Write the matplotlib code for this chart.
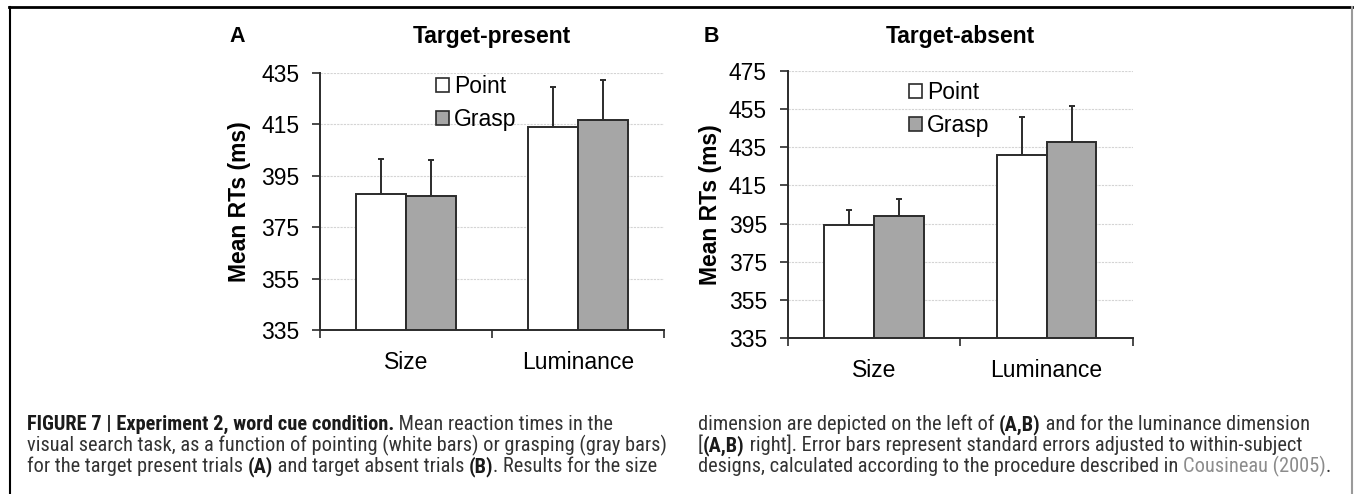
import matplotlib
matplotlib.use("Agg")
import matplotlib.pyplot as plt
import numpy as np
from matplotlib.lines import Line2D
from matplotlib import font_manager

# ---------------- data ----------------
categories = ["Size", "Luminance"]
series_names = ["Point", "Grasp"]

present_point = [388.0, 414.0]
present_grasp = [387.0, 416.5]
present_point_err = [13.4, 15.3]
present_grasp_err = [14.0, 15.5]
present_ticks = [335, 355, 375, 395, 415, 435]

absent_point = [394.0, 431.2]
absent_grasp = [398.8, 437.7]
absent_point_err = [8.2, 19.6]
absent_grasp_err = [8.9, 19.1]
absent_ticks = [335, 355, 375, 395, 415, 435, 455, 475]

# ---------------- style ----------------
W, H = 1355, 494
DPI = 100
plt.rcParams['font.family'] = ['Liberation Sans', 'DejaVu Sans']
fig = plt.figure(figsize=(W / DPI, H / DPI), dpi=DPI)

def px_box(x0, y0, x1, y1):
    return [x0 / W, 1 - y1 / H, (x1 - x0) / W, (y1 - y0) / H]

colors = ["white", "#a6a6a6"]
edge = "#2b2b2b"
FS = 16.5

def panel(rect, point, grasp, perr, gerr, ticks, title, letter, letter_x, ylab_x, leg_xy):
    ax = fig.add_axes(rect)
    x = np.arange(len(categories))
    w = 0.288
    vals = [point, grasp]
    errs = [perr, gerr]
    handles = []
    for i in range(2):
        xs = x + (i - 0.5) * w
        b = ax.bar(xs, np.array(vals[i]) - ticks[0], width=w, bottom=ticks[0],
                   color=colors[i], edgecolor=edge, linewidth=1.4, zorder=3,
                   label=series_names[i])
        ax.errorbar(xs, vals[i], yerr=[np.zeros(len(xs)), errs[i]], fmt='none',
                    ecolor=edge, elinewidth=1.4, capsize=2.3, capthick=1.4, zorder=2)
        handles.append(b)
    ax.set_xlim(-0.5, 1.5)
    ax.set_ylim(ticks[0], ticks[-1])
    ax.set_yticks(ticks)
    ax.set_yticklabels([str(t) for t in ticks], fontsize=FS)
    ax.set_xticks([-0.5, 0.5, 1.5])
    ax.set_xticklabels([])
    ax.set_xticks(x, minor=True)
    ax.set_xticklabels(categories, minor=True, fontsize=FS)
    ax.tick_params(axis='x', which='minor', length=0, pad=15)
    ax.tick_params(axis='x', which='major', length=6, width=1.2, color=edge, direction='out')
    ax.tick_params(axis='y', length=6, width=1.2, color=edge, direction='out', pad=9)
    for s in ['top', 'right']:
        ax.spines[s].set_visible(False)
    for s in ['left', 'bottom']:
        ax.spines[s].set_color(edge)
        ax.spines[s].set_linewidth(1.4)
    ax.yaxis.grid(True, color='#d4d4d4', linestyle=(0, (2, 1)), linewidth=0.8, zorder=0)
    ax.set_axisbelow(True)
    fig.text((rect[0] + rect[2] / 2), 1 - 37 / H, title, ha='center', va='center',
             fontsize=FS, fontweight='bold')
    fig.text(letter_x / W, 1 - 37 / H, letter, ha='center', va='center',
             fontsize=FS - 1, fontweight='bold')
    fig.text(ylab_x / W, rect[1] + rect[3] / 2, "Mean RTs (ms)", rotation=90,
             ha='center', va='center', fontsize=FS, fontweight='bold')
    leg = ax.legend(handles=handles, loc='upper left',
                    bbox_to_anchor=(leg_xy[0] / W, 1 - leg_xy[1] / H),
                    bbox_transform=fig.transFigure, frameon=False, fontsize=FS,
                    handlelength=0.55, handleheight=0.55, handletextpad=0.25,
                    labelspacing=0.45, borderpad=0, borderaxespad=0)
    for p in leg.get_patches():
        p.set_linewidth(1.2)
    return ax

axA = panel(px_box(320, 72.7, 664, 330.4), present_point, present_grasp,
            present_point_err, present_grasp_err, present_ticks,
            "Target-present", "A", 237, 240, (436, 75))
axB = panel(px_box(787.7, 71.3, 1133, 337.7), absent_point, absent_grasp,
            absent_point_err, absent_grasp_err, absent_ticks,
            "Target-absent", "B", 711, 710, (909, 81))

# ---------------- frame ----------------
fig.add_artist(Line2D([9 / W, 1352 / W], [1 - 7 / H, 1 - 7 / H], color='black', linewidth=2.0))
fig.add_artist(Line2D([9.5 / W, 9.5 / W], [0, 1 - 7 / H], color='black', linewidth=1.5))
fig.add_artist(Line2D([1352 / W, 1352 / W], [0, 1 - 7 / H], color='#9a9a9a', linewidth=1.5))

# ---------------- caption ----------------
available = {f.name for f in font_manager.fontManager.ttflist}
cap_family = 'Liberation Sans'
for cand in ['Roboto Condensed', 'Liberation Sans Narrow', 'PT Sans Narrow',
             'Archivo Narrow', 'Open Sans Condensed', 'Asap Condensed']:
    if cand in available:
        cap_family = cand
        break
CAP_FONT = [cap_family, 'DejaVu Sans']
renderer = fig.canvas.get_renderer()

left_col = [
    [("FIGURE 7 | Experiment 2, word cue condition.", 'bold', '#1a1a1a'),
     (" Mean reaction times in the", 'normal', '#333333')],
    [("visual search task, as a function of pointing (white bars) or grasping (gray bars)", 'normal', '#333333')],
    [("for the target present trials ", 'normal', '#333333'), ("(A)", 'bold', '#1a1a1a'),
     (" and target absent trials ", 'normal', '#333333'), ("(B)", 'bold', '#1a1a1a'),
     (". Results for the size", 'normal', '#333333')],
]
right_col = [
    [("dimension are depicted on the left of ", 'normal', '#333333'), ("(A,B)", 'bold', '#1a1a1a'),
     (" and for the luminance dimension", 'normal', '#333333')],
    [("[", 'normal', '#333333'), ("(A,B)", 'bold', '#1a1a1a'),
     (" right]. Error bars represent standard errors adjusted to within-subject", 'normal', '#333333')],
    [("designs, calculated according to the procedure described in ", 'normal', '#333333'),
     ("Cousineau (2005)", 'normal', '#8c8c8c'), (".", 'normal', '#333333')],
]

def draw_line(segs, x0, ybase, fs):
    x = x0
    for txt, wt, col in segs:
        t = fig.text(x / W, 1 - ybase / H, txt, ha='left', va='baseline', fontsize=fs,
                     fontweight=wt, color=col, family=CAP_FONT)
        bb = t.get_window_extent(renderer)
        x += bb.width
    return x

probe = fig.text(0, 0, left_col[1][0][0], fontsize=12, family=CAP_FONT)
wprobe = probe.get_window_extent(renderer).width
probe.remove()
cap_fs = 12 * (666 - 27) / wprobe

baselines = [430, 451, 472]
for segs, yb in zip(left_col, baselines):
    draw_line(segs, 27, yb, cap_fs)
for segs, yb in zip(right_col, baselines):
    draw_line(segs, 698, yb, cap_fs)

fig.savefig("out.png", dpi=DPI)
